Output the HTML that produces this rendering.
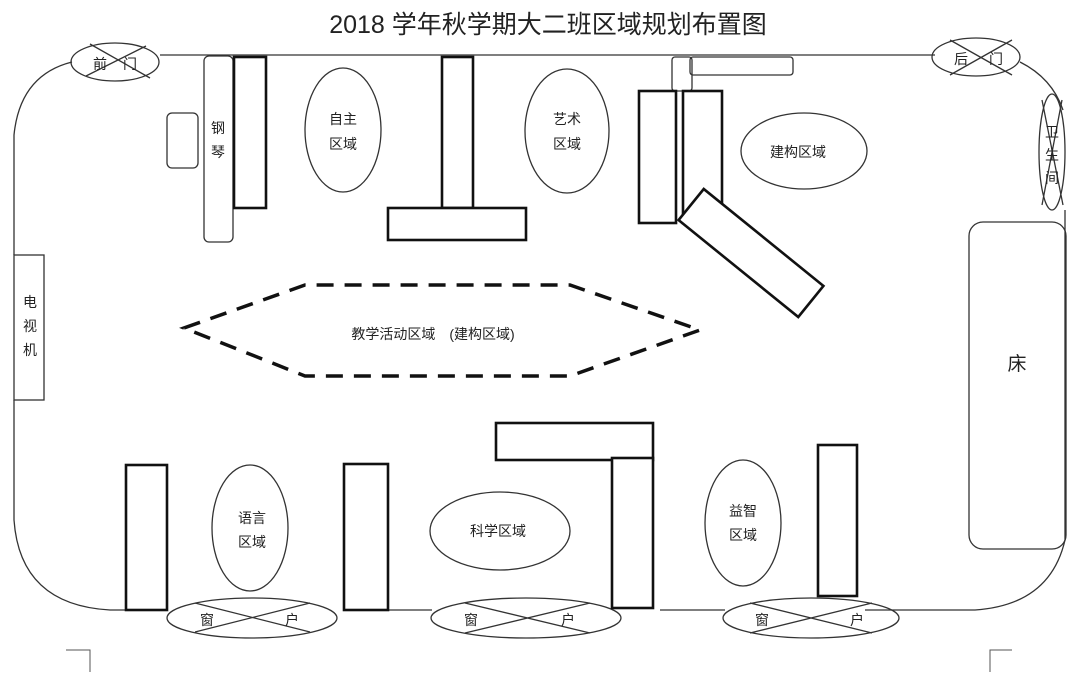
<!DOCTYPE html>
<html><head><meta charset="utf-8"><style>
html,body{margin:0;padding:0;background:#fff;}
svg{display:block;}
text{font-family:"Liberation Sans","Noto Sans CJK SC",sans-serif;fill:#222;}
</style></head><body>
<svg width="1080" height="674" viewBox="0 0 1080 674" xmlns="http://www.w3.org/2000/svg">
<text x="548" y="33" font-size="25" text-anchor="middle">2018 学年秋学期大二班区域规划布置图</text>
<g fill="none" stroke="#333" stroke-width="1.3">
 <!-- walls -->
 <path d="M160 55 L935 55"/>
 <path d="M1020 62 Q1052 78 1063 110"/>
 <path d="M1065 210 L1065 540 Q1050 605 975 610 L865 610"/>
 <path d="M660 610 L725 610"/>
 <path d="M388 610 L432 610"/>
 <path d="M168 610 L110 610 Q20 605 14 520 L14 400"/>
 <path d="M14 255 L14 135 Q20 75 72 62"/>
 <!-- doors -->
 <ellipse cx="115" cy="62" rx="44" ry="19"/><path d="M90 44 L150 78 M86 76 L146 46"/>
 <ellipse cx="976" cy="57" rx="44" ry="19"/><path d="M950 40 L1012 75 M950 75 L1012 40"/>
 <ellipse cx="1052" cy="152" rx="13" ry="58"/><path d="M1042 100 L1063 205 M1062 100 L1042 205"/>
 <!-- windows -->
 <ellipse cx="252" cy="618" rx="85" ry="20"/><path d="M195 603 L310 632 M195 632 L310 603"/>
 <ellipse cx="526" cy="618" rx="95" ry="20"/><path d="M465 603 L590 633 M465 633 L590 603"/>
 <ellipse cx="811" cy="618" rx="88" ry="20"/><path d="M750 603 L872 633 M750 633 L872 603"/>
 <!-- furniture rounded -->
 <rect x="167" y="113" width="31" height="55" rx="5"/>
 <rect x="204" y="56" width="29" height="186" rx="5"/>
 <rect x="672" y="57" width="20" height="34" rx="3"/>
 <rect x="690" y="57" width="103" height="18" rx="3"/>
 <rect x="969" y="222" width="97" height="327" rx="14"/>
 <rect x="14" y="255" width="30" height="145"/>
 <!-- ellipses -->
 <ellipse cx="343" cy="130" rx="38" ry="62"/>
 <ellipse cx="567" cy="131" rx="42" ry="62"/>
 <ellipse cx="804" cy="151" rx="63" ry="38"/>
 <ellipse cx="250" cy="528" rx="38" ry="63"/>
 <ellipse cx="500" cy="531" rx="70" ry="39"/>
 <ellipse cx="743" cy="523" rx="38" ry="63"/>
</g>
<g fill="#fff" stroke="#111" stroke-width="2.6">
 <rect x="234" y="57" width="32" height="151"/>
 <rect x="442" y="57" width="31" height="151"/>
 <rect x="388" y="208" width="138" height="32"/>
 <rect x="639" y="91" width="37" height="132"/>
 <rect x="683" y="91" width="39" height="132"/>
 <rect x="-77" y="-20" width="154" height="40" transform="translate(751 253) rotate(39)"/>
 <rect x="126" y="465" width="41" height="145"/>
 <rect x="344" y="464" width="44" height="146"/>
 <rect x="496" y="423" width="157" height="37"/>
 <rect x="612" y="458" width="41" height="150"/>
 <rect x="818" y="445" width="39" height="151"/>
</g>
<polygon points="184,328 305,285 570,285 700,330 570,376 305,376" fill="none" stroke="#111" stroke-width="3.5" stroke-dasharray="17,11"/>
<g fill="none" stroke="#555" stroke-width="1">
 <path d="M66 650 L90 650 L90 672"/>
 <path d="M1012 650 L990 650 L990 672"/>
</g>
<g font-size="14" text-anchor="middle">
 <text x="100" y="69">前</text><text x="130" y="69">门</text>
 <text x="961" y="64">后</text><text x="996" y="64">门</text>
 <text x="1052" y="137">卫</text><text x="1052" y="160">生</text><text x="1052" y="183">间</text>
 <text x="218" y="133">钢</text><text x="218" y="157">琴</text>
 <text x="343" y="124">自主</text><text x="343" y="149">区域</text>
 <text x="567" y="124">艺术</text><text x="567" y="149">区域</text>
 <text x="798" y="157">建构区域</text>
 <text x="30" y="307">电</text><text x="30" y="331">视</text><text x="30" y="355">机</text>
 <text x="433" y="339">教学活动区域　(建构区域)</text>
 <text x="1017" y="370" font-size="19">床</text>
 <text x="252" y="523">语言</text><text x="252" y="547">区域</text>
 <text x="498" y="536">科学区域</text>
 <text x="743" y="516">益智</text><text x="743" y="540">区域</text>
 <text x="207" y="625">窗</text><text x="292" y="625">户</text>
 <text x="471" y="625">窗</text><text x="568" y="625">户</text>
 <text x="762" y="625">窗</text><text x="857" y="625">户</text>
</g>
</svg>
</body></html>
